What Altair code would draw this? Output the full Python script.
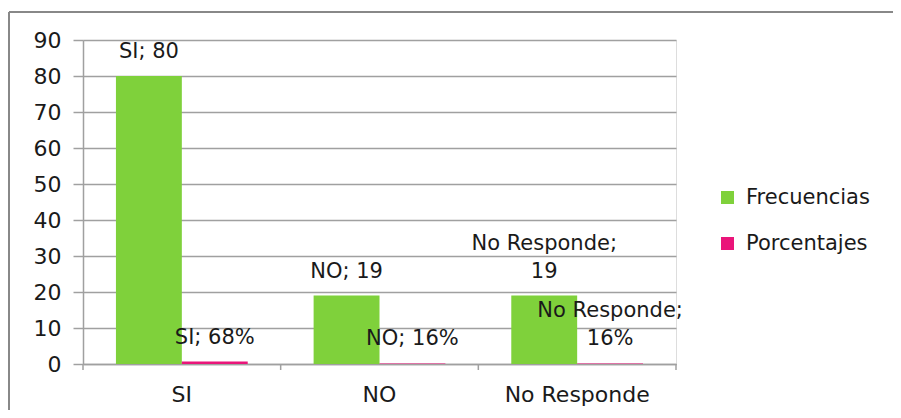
import altair as alt
import pandas as pd

categories = ["SI", "NO", "No Responde"]
series = ["Frecuencias", "Porcentajes"]
frecuencias = [80, 19, 19]
porcentajes = [0.68, 0.16, 0.16]
pct_text = ["68%", "16%", "16%"]
colors = ["#7FD13B", "#EA157A"]
y_ticks = [0, 10, 20, 30, 40, 50, 60, 70, 80, 90]

rows = []
for c, f, p, pt in zip(categories, frecuencias, porcentajes, pct_text):
    two = len(c) > 4
    sep = "\n" if two else " "
    rows.append({"cat": c, "serie": series[0], "value": f,
                 "label": f"{c};{sep}{f}", "lines": 2 if two else 1})
    rows.append({"cat": c, "serie": series[1], "value": p,
                 "label": f"{c};{sep}{pt}", "lines": 2 if two else 1})
df = pd.DataFrame(rows)
ticks_df = pd.DataFrame({"cat": categories})

W, H = 593, 324
FONT = "DejaVu Sans"
GRAY = "#A0A0A0"

x_enc = alt.X("cat:N", sort=categories, title=None,
              scale=alt.Scale(paddingInner=0, paddingOuter=0),
              axis=alt.Axis(ticks=False, labelAngle=0, labelPadding=20,
                            labelFontSize=22, labelFont=FONT, labelColor="#1a1a1a",
                            domainColor=GRAY, domainWidth=1.5, grid=False))
xo_enc = alt.XOffset("serie:N", sort=series,
                     scale=alt.Scale(paddingInner=0, paddingOuter=0.5))
y_enc = alt.Y("value:Q", title=None,
              scale=alt.Scale(domain=[0, 90], nice=False, zero=True),
              axis=alt.Axis(values=y_ticks, tickCount=10, tickSize=10, tickColor=GRAY,
                            tickWidth=1.5, domainColor=GRAY, domainWidth=1.5,
                            gridColor=GRAY, gridWidth=1.5,
                            labelPadding=12, labelFontSize=22, labelFont=FONT,
                            labelOverlap=False, labelColor="#1a1a1a"))

bars = alt.Chart(df).mark_bar().encode(
    x=x_enc, xOffset=xo_enc, y=y_enc,
    color=alt.Color("serie:N", sort=series,
                    scale=alt.Scale(domain=series, range=colors),
                    legend=alt.Legend(title=None, orient="none", legendX=634, legendY=147,
                                      symbolType="square", symbolSize=170,
                                      symbolStrokeWidth=0, labelFontSize=21, labelFont=FONT,
                                      labelColor="#1a1a1a", labelOffset=8, rowPadding=24,
                                      padding=0)),
)

text_style = dict(baseline="bottom", fontSize=21, font=FONT, color="#1a1a1a",
                  lineBreak="\n", lineHeight=28, align="center")
labels1 = alt.Chart(df).transform_filter("datum.lines == 1").mark_text(
    dy=-14, **text_style
).encode(x=x_enc, xOffset=xo_enc, y=y_enc, text="label:N")
labels2 = alt.Chart(df).transform_filter("datum.lines == 2").mark_text(
    dy=-42, **text_style
).encode(x=x_enc, xOffset=xo_enc, y=y_enc, text="label:N")

xticks = alt.Chart(ticks_df).mark_rule(color=GRAY, strokeWidth=1.5).encode(
    x=alt.X("cat:N", sort=categories, bandPosition=0),
    y=alt.value(H), y2=alt.value(H + 6),
)
xtick_end = alt.Chart(ticks_df.head(1)).mark_rule(color=GRAY, strokeWidth=1.5).encode(
    x=alt.value(W), y=alt.value(H), y2=alt.value(H + 6),
)
frame_left = alt.Chart(ticks_df.head(1)).mark_rule(color="#888888", strokeWidth=2).encode(
    x=alt.value(-74), y=alt.value(-28), y2=alt.value(420),
)
frame_top = alt.Chart(ticks_df.head(1)).mark_rule(color="#888888", strokeWidth=2).encode(
    x=alt.value(-74), x2=alt.value(900), y=alt.value(-28),
)

chart = alt.layer(frame_left, frame_top, bars, xticks, xtick_end, labels1, labels2).properties(
    width=W, height=H,
    autosize=alt.AutoSizeParams(type="none"),
    padding={"left": 75, "top": 32, "right": 217, "bottom": 46},
).configure_view(stroke=None).configure(background="white")

chart.save("out.html", embed_options={"renderer": "svg", "actions": False})
